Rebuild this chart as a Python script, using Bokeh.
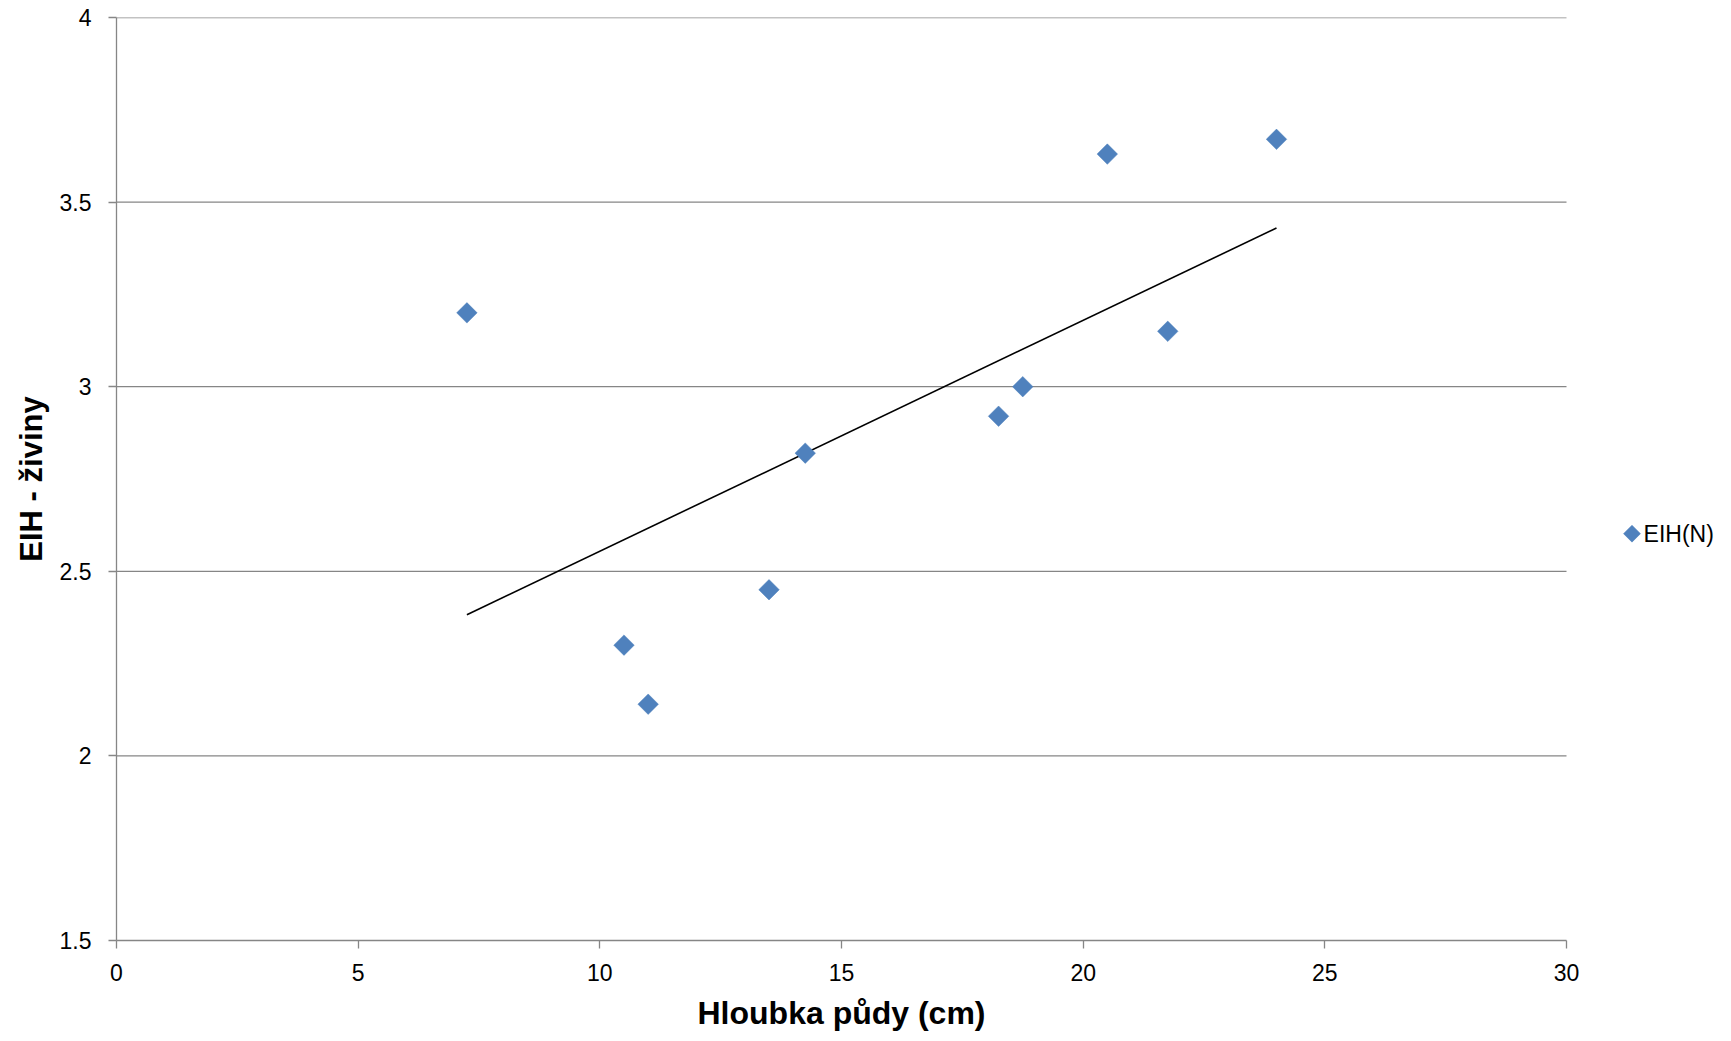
import numpy as np
from bokeh.plotting import figure
from bokeh.models import Range1d, FixedTicker, Title
from bokeh.embed import file_html
from bokeh.resources import INLINE
from bokeh.core.properties import value

# ---- data ----
depth_cm = [7.25, 10.5, 11.0, 13.5, 14.25, 18.25, 18.75, 20.5, 21.75, 24.0]
eih_n = [3.20, 2.30, 2.14, 2.45, 2.82, 2.92, 3.00, 3.63, 3.15, 3.67]
x_ticks = [0, 5, 10, 15, 20, 25, 30]
y_ticks = [1.5, 2.0, 2.5, 3.0, 3.5, 4.0]
y_tick_labels = ["1.5", "2", "2.5", "3", "3.5", "4"]
series_name = "EIH(N)"
x_title = "Hloubka půdy (cm)"
y_title = "EIH - živiny"

# linear trend line (least squares) over the data span
slope, intercept = np.polyfit(depth_cm, eih_n, 1)
trend_x = [min(depth_cm), max(depth_cm)]
trend_y = [slope * v + intercept for v in trend_x]

FONT = "Liberation Sans"
GRID = "#868686"
BLUE = "#4F81BD"

# layout: axis area 1450 px wide for x 0..30; the frame extends further right
# so that the legend (outside the axis area) can be drawn as plain glyphs
AXIS_W = 1450
FRAME_W = 1600
x_lo, x_hi = x_ticks[0], x_ticks[-1]
x_end = x_lo + (x_hi - x_lo) * FRAME_W / AXIS_W

p = figure(
    frame_width=FRAME_W, frame_height=923,
    min_border_left=116, min_border_right=15,
    min_border_top=17, min_border_bottom=100,
    x_range=Range1d(x_lo, x_end), y_range=Range1d(y_ticks[0], y_ticks[-1]),
    output_backend="svg", toolbar_location=None,
    background_fill_color="white", border_fill_color="white",
)
p.outline_line_color = None
p.xgrid.grid_line_color = None
p.ygrid.grid_line_color = None

# horizontal gridlines limited to the axis span
p.segment(x0=[x_lo] * (len(y_ticks) - 1), x1=[x_hi] * (len(y_ticks) - 1),
          y0=y_ticks[1:], y1=y_ticks[1:], line_color=GRID, line_width=1.3)

for ax in (p.xaxis[0], p.yaxis[0]):
    ax.axis_line_color = GRID
    ax.axis_line_width = 1.3
    ax.major_tick_line_color = GRID
    ax.major_tick_line_width = 1.3
    ax.major_tick_out = 8
    ax.major_tick_in = 0
    ax.minor_tick_line_color = None
    ax.major_label_text_font = FONT
    ax.major_label_text_font_size = "23px"
    ax.major_label_text_color = "black"
    ax.axis_label_text_font = FONT
    ax.axis_label_text_font_style = "bold"
    ax.axis_label_text_font_size = "31px"
    ax.axis_label_text_color = "black"

p.xaxis[0].bounds = (x_lo, x_hi)
p.xaxis[0].ticker = FixedTicker(ticks=x_ticks)
p.yaxis[0].ticker = FixedTicker(ticks=y_ticks)
p.yaxis[0].major_label_overrides = {t: l for t, l in zip(y_ticks, y_tick_labels)}
p.yaxis[0].axis_label = y_title
p.xaxis[0].major_label_standoff = 15
p.yaxis[0].major_label_standoff = 17
p.yaxis[0].axis_label_standoff = 8

# x-axis title, centred under the axis span (not the wider frame)
xt = Title(text=x_title, align="left", offset=581, standoff=18,
           text_font=FONT, text_font_size="32px", text_font_style="bold",
           text_color="black")
p.add_layout(xt, "below")

p.line(trend_x, trend_y, line_color="black", line_width=1.6)
p.scatter(depth_cm, eih_n, marker="square", size=14.5, angle=np.pi / 4,
          fill_color=BLUE, line_color=BLUE, line_width=0.5)

# legend (right of the axis area)
leg_x = x_hi + 1.355
leg_y = 2.602
p.scatter([leg_x], [leg_y], marker="square", size=12, angle=np.pi / 4,
          fill_color=BLUE, line_color=BLUE, line_width=0.5)
p.text([leg_x + 0.24], [leg_y], text=[series_name], text_font=value(FONT),
       text_font_size="23px", text_color="black", text_baseline="middle",
       text_align="left")

open("out.html", "w").write(file_html(p, INLINE))
